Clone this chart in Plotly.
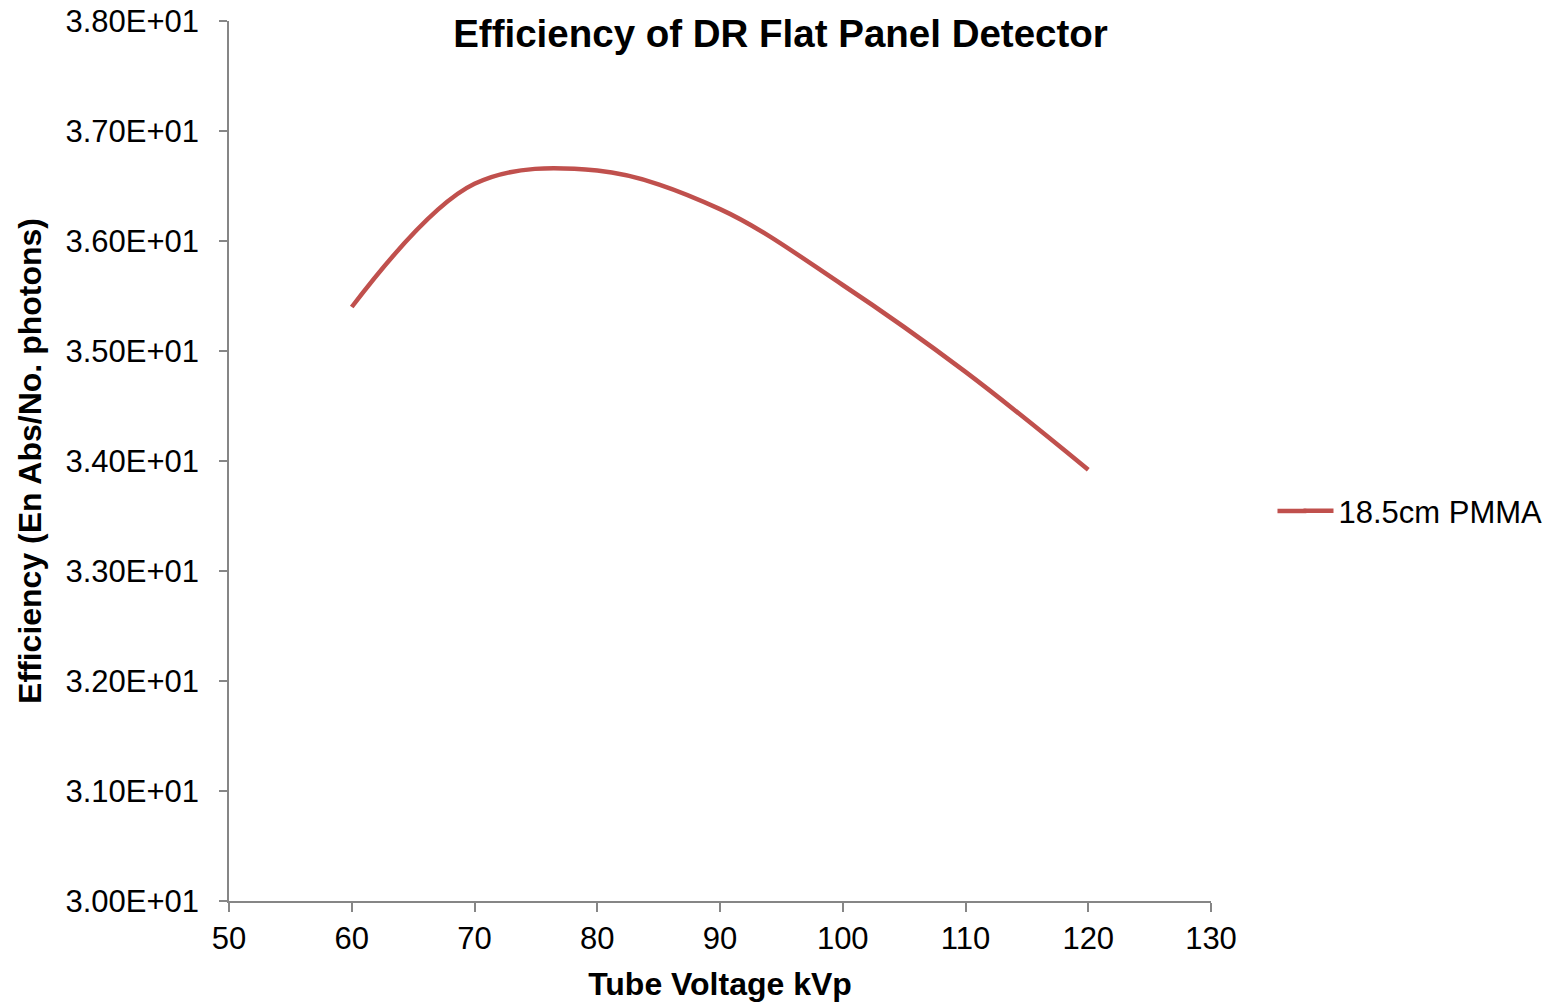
import plotly.graph_objects as go

# Tube voltage (kVp) and detector efficiency for 18.5 cm PMMA
kvp = [60, 70, 80, 90, 100, 110, 120]
efficiency = [35.40, 36.52, 36.64, 36.29, 35.60, 34.81, 33.92]
series_name = "18.5cm PMMA"

y_tick_values = [30, 31, 32, 33, 34, 35, 36, 37, 38]
y_tick_labels = ["3.00E+01", "3.10E+01", "3.20E+01", "3.30E+01", "3.40E+01",
                 "3.50E+01", "3.60E+01", "3.70E+01", "3.80E+01"]
x_tick_values = [50, 60, 70, 80, 90, 100, 110, 120, 130]

FONT = "Liberation Sans, Arial, sans-serif"
AXIS_GRAY = "#868686"
LINE_RED = "#C0504D"
LEGEND_X = 1.0891
LEGEND_Y = 0.4432

fig = go.Figure()
fig.add_trace(go.Scatter(
    x=kvp, y=efficiency, name=series_name, mode="lines",
    line=dict(color=LINE_RED, width=4.5, shape="spline", smoothing=1.0),
    showlegend=True,
))

# Lengthen the legend key line to the left of plotly's built-in sample
fig.add_shape(type="line", xref="paper", yref="paper",
              x0=LEGEND_X - 0.0214, x1=LEGEND_X + 0.008,
              y0=LEGEND_Y, y1=LEGEND_Y,
              line=dict(color=LINE_RED, width=4.5))

fig.update_layout(
    width=1561, height=1002,
    margin=dict(l=229, r=350, t=21, b=101, autoexpand=False),
    paper_bgcolor="white", plot_bgcolor="white",
    font=dict(family=FONT, size=31, color="black"),
    title=dict(text="<b>Efficiency of DR Flat Panel Detector</b>",
               font=dict(size=38.5, family=FONT, color="black"),
               x=0.5, xref="container", xanchor="center",
               y=1 - 34 / 1002, yref="container", yanchor="middle"),
    showlegend=True,
    legend=dict(x=LEGEND_X, xanchor="left", y=LEGEND_Y, yanchor="middle",
                font=dict(size=31, family=FONT), bgcolor="rgba(0,0,0,0)"),
    xaxis=dict(
        range=[50, 130], tickvals=x_tick_values,
        showline=True, linecolor=AXIS_GRAY, linewidth=1.5,
        ticks="outside", ticklen=9, tickcolor=AXIS_GRAY, tickwidth=1.5,
        showgrid=False, zeroline=False,
        title=dict(text="<b>Tube Voltage kVp</b>", standoff=18,
                   font=dict(size=32, family=FONT)),
    ),
    yaxis=dict(
        range=[30, 38], tickvals=y_tick_values, ticktext=y_tick_labels,
        showline=True, linecolor=AXIS_GRAY, linewidth=1.5,
        ticks="outside", ticklen=8, tickcolor=AXIS_GRAY, tickwidth=1.5,
        ticklabelstandoff=14,
        showgrid=False, zeroline=False,
        title=dict(text="<b>Efficiency (En Abs/No. photons)</b>", standoff=14,
                   font=dict(size=32, family=FONT)),
    ),
)

fig.write_html("out.html")
